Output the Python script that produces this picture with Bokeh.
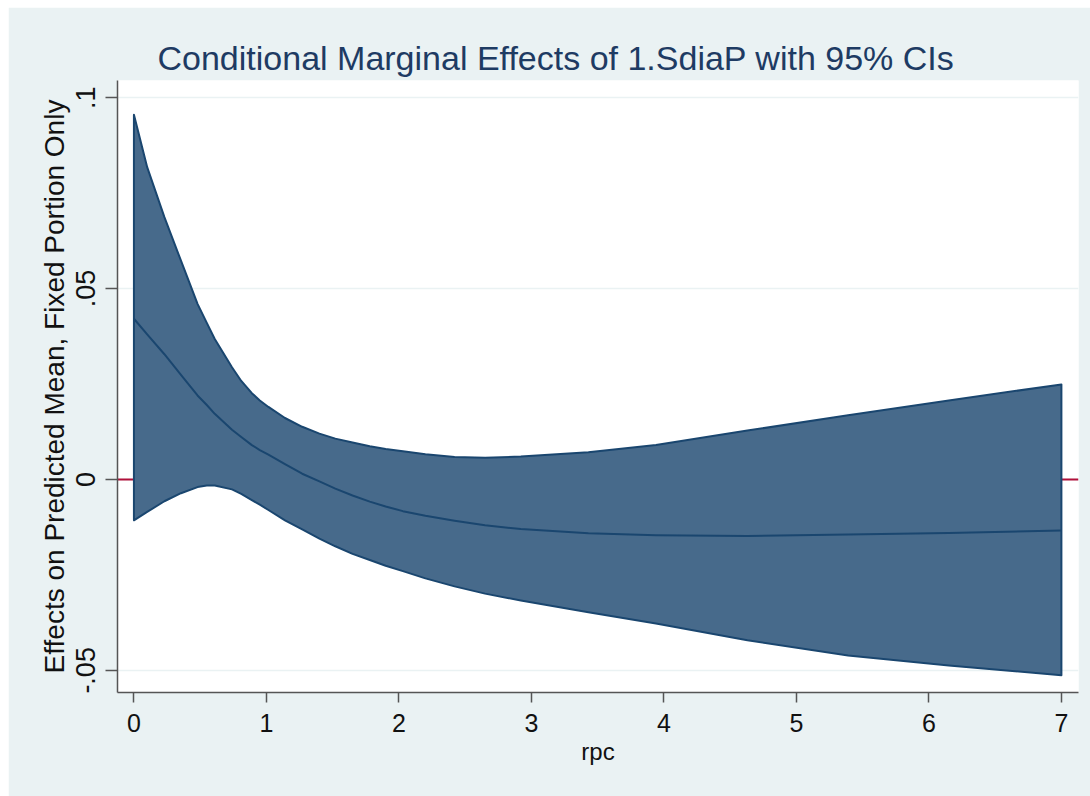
from bokeh.plotting import figure
from bokeh.models import Range1d, FixedTicker, Span
from bokeh.embed import file_html
from bokeh.resources import INLINE

# data
rpc = [0, 0.1, 0.23, 0.355, 0.48, 0.55, 0.61, 0.74, 0.81, 0.89, 0.95, 1.015, 1.14, 1.27, 1.4, 1.52, 1.65,
       1.78, 1.9, 2.03, 2.2, 2.42, 2.65, 2.92, 3.43, 3.94, 4.63, 5.39, 6.15, 7.0]
upper = [0.0955, 0.0818, 0.0687, 0.0573, 0.0460, 0.0410, 0.0368, 0.0294, 0.0258, 0.0226, 0.0207, 0.0190,
         0.0161, 0.0138, 0.0120, 0.0107, 0.0097, 0.0087, 0.0080, 0.0074, 0.0066, 0.0059, 0.0057, 0.0060,
         0.0071, 0.0090, 0.0128, 0.0168, 0.0207, 0.0249]
mean = [0.0421, 0.0380, 0.0328, 0.0274, 0.0220, 0.0195, 0.0172, 0.0130, 0.0111, 0.0090, 0.0077, 0.0065,
        0.0040, 0.0015, -0.0005, -0.0024, -0.0042, -0.0058, -0.0071, -0.0083, -0.0095, -0.0108, -0.0120,
        -0.0130, -0.0141, -0.0146, -0.0148, -0.0144, -0.0140, -0.0134]
lower = [-0.0107, -0.0085, -0.0057, -0.0036, -0.0020, -0.0016, -0.0016, -0.0026, -0.0038, -0.0054, -0.0066,
         -0.0080, -0.0107, -0.0131, -0.0155, -0.0175, -0.0195, -0.0211, -0.0226, -0.0240, -0.0259, -0.0280,
         -0.0299, -0.0317, -0.0348, -0.0377, -0.0421, -0.0461, -0.0487, -0.0513]
x_ticks = [0, 1, 2, 3, 4, 5, 6, 7]
y_ticks = [-0.05, 0, 0.05, 0.1]
y_tick_labels = {-0.05: "-.05", 0: "0", 0.05: ".05", 0.1: ".1"}

FONT = "Liberation Sans"
BG = "#EAF2F3"
NAVY = "#1A466F"
FILL = "#476A8B"

p = figure(width=1082, height=789, output_backend="svg", toolbar_location=None,
           x_range=Range1d(-0.124, 7.129), y_range=Range1d(-0.0558, 0.1045),
           min_border_left=109, min_border_right=12, min_border_top=73, min_border_bottom=104)
p.styles = {"margin-left": "8px", "margin-top": "7px"}

p.background_fill_color = "white"
p.border_fill_color = BG
p.outline_line_color = None

p.title.text = "Conditional Marginal Effects of 1.SdiaP with 95% CIs"
p.title.text_font = FONT
p.title.text_font_size = "34px"
p.title.text_font_style = "normal"
p.title.text_color = "#1E3B63"
p.title.align = "left"
p.title.offset = 40
p.title.standoff = 8

p.xgrid.grid_line_color = None
p.ygrid.ticker = FixedTicker(ticks=y_ticks)
p.ygrid.grid_line_color = BG
p.ygrid.grid_line_width = 1.5

red = Span(location=0, dimension="width", line_color="#B0103A", line_width=2, level="underlay")
p.add_layout(red)

xs = rpc + rpc[::-1]
ys = upper + lower[::-1]
p.patch(xs, ys, fill_color=FILL, line_color=NAVY, line_width=2, line_join="round")
p.line(rpc, mean, line_color=NAVY, line_width=2, line_join="round")

for ax in (p.xaxis[0], p.yaxis[0]):
    ax.axis_line_color = "#555555"
    ax.axis_line_width = 1.5
    ax.major_tick_line_color = "#555555"
    ax.major_tick_line_width = 1.5
    ax.major_tick_in = 0
    ax.minor_tick_line_color = None
    ax.major_label_text_font = FONT
    ax.major_label_text_color = "#111111"
    ax.axis_label_text_font = FONT
    ax.axis_label_text_font_style = "normal"
    ax.axis_label_text_color = "#111111"

p.xaxis.ticker = FixedTicker(ticks=x_ticks)
p.xaxis.major_tick_out = 10
p.xaxis.major_label_standoff = 11
p.xaxis.major_label_text_font_size = "25px"
p.xaxis.axis_label = "rpc"
p.xaxis.axis_label_text_font_size = "24px"
p.xaxis.axis_label_standoff = 3

p.yaxis.ticker = FixedTicker(ticks=y_ticks)
p.yaxis.major_label_overrides = y_tick_labels
p.yaxis.major_label_orientation = "vertical"
p.yaxis.major_label_text_font_size = "27px"
p.yaxis.major_tick_out = 12
p.yaxis.major_label_standoff = 10
p.yaxis.axis_label = "Effects on Predicted Mean, Fixed Portion Only"
p.yaxis.axis_label_text_font_size = "28px"
p.yaxis.axis_label_standoff = 4

open("out.html", "w").write(file_html(p, INLINE))
